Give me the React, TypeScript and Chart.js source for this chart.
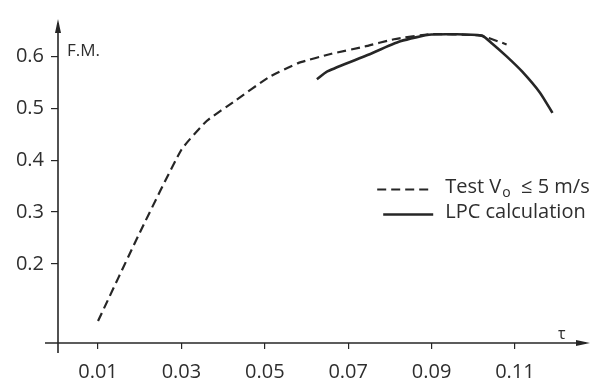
import { useEffect, useRef } from "react";
import { Chart, registerables } from "chart.js";

Chart.register(...registerables);

// ---- data ----
const testTau = [0.01, 0.02, 0.03, 0.036, 0.043, 0.051, 0.058, 0.066, 0.074, 0.081, 0.09, 0.1, 0.102, 0.108];
const testFM = [0.09, 0.26, 0.42, 0.475, 0.515, 0.56, 0.587, 0.605, 0.619, 0.633, 0.643, 0.641, 0.64, 0.623];

const lpcTau = [0.0625, 0.065, 0.0745, 0.0825, 0.09, 0.102, 0.1045, 0.108, 0.1117, 0.116, 0.119];
const lpcFM = [0.556, 0.571, 0.602, 0.629, 0.642, 0.64, 0.625, 0.6, 0.571, 0.53, 0.491];

const xTicks = [0.01, 0.03, 0.05, 0.07, 0.09, 0.11];
const yTicks = [0.2, 0.3, 0.4, 0.5, 0.6];

const legendMain = ["Test V", "LPC calculation"];
const legendSub = ["o", ""];
const legendTail = ["  \u2264 5 m/s", ""];

const yTitle = "F.M.";
const xTitle = "\u03c4";

const INK = "#262626";
const TEXT = "#2e2e2e";
const FONT = "'Open Sans', 'DejaVu Sans', sans-serif";

const axesPlugin = {
  id: "axesArrows",
  afterDraw(chart: any) {
    const { ctx, chartArea } = chart;
    const { left, right, top, bottom } = chartArea;
    ctx.save();
    ctx.strokeStyle = INK;
    ctx.fillStyle = INK;
    ctx.lineWidth = 1.6;
    // x axis
    ctx.beginPath();
    ctx.moveTo(left - 13, bottom);
    ctx.lineTo(right - 4, bottom);
    ctx.stroke();
    ctx.beginPath();
    ctx.moveTo(right, bottom);
    ctx.lineTo(right - 14, bottom - 3);
    ctx.lineTo(right - 14, bottom + 3);
    ctx.closePath();
    ctx.fill();
    // y axis
    ctx.beginPath();
    ctx.moveTo(left, bottom + 10);
    ctx.lineTo(left, top + 4);
    ctx.stroke();
    ctx.beginPath();
    ctx.moveTo(left, top);
    ctx.lineTo(left - 3, top + 14);
    ctx.lineTo(left + 3, top + 14);
    ctx.closePath();
    ctx.fill();
    // titles
    ctx.fillStyle = TEXT;
    ctx.font = `17px ${FONT}`;
    ctx.textBaseline = "middle";
    ctx.textAlign = "left";
    ctx.fillText(yTitle, left + 9, top + 32);
    ctx.font = `16px ${FONT}`;
    ctx.fillText(xTitle, right - 32, bottom - 9);
    ctx.restore();
  },
};

const legendPlugin = {
  id: "customLegend",
  afterDraw(chart: any) {
    const { ctx, chartArea } = chart;
    const w = chartArea.right - chartArea.left;
    const h = chartArea.bottom - chartArea.top;
    const x0 = chartArea.left + w * 0.6;
    const x1 = x0 + 56;
    const tx = x1 + 12;
    const y0 = chartArea.top + h * 0.52;
    const rowH = 25;
    ctx.save();
    chart.data.datasets.forEach((ds: any, i: number) => {
      const y = y0 + i * rowH;
      ctx.strokeStyle = ds.borderColor;
      ctx.lineWidth = ds.borderWidth;
      ctx.setLineDash(ds.borderDash || []);
      ctx.beginPath();
      ctx.moveTo(x0 + (i === 1 ? 6 : 0), y + 2);
      ctx.lineTo(x1, y + 2);
      ctx.stroke();
      ctx.setLineDash([]);
      ctx.fillStyle = TEXT;
      ctx.textBaseline = "middle";
      ctx.textAlign = "left";
      ctx.font = `20px ${FONT}`;
      let x = tx;
      ctx.fillText(legendMain[i], x, y);
      x += ctx.measureText(legendMain[i]).width;
      if (legendSub[i]) {
        ctx.font = `14px ${FONT}`;
        ctx.fillText(legendSub[i], x + 1, y + 6);
        x += ctx.measureText(legendSub[i]).width + 1;
        ctx.font = `20px ${FONT}`;
      }
      if (legendTail[i]) ctx.fillText(legendTail[i], x, y);
    });
    ctx.restore();
  },
};

export default function App() {
  const ref = useRef<HTMLCanvasElement>(null);
  useEffect(() => {
    document.body.style.margin = "0";
    const chart = new Chart(ref.current as HTMLCanvasElement, {
      type: "line",
      data: {
        datasets: [
          {
            label: legendMain[0] + legendSub[0] + legendTail[0],
            data: testTau.map((t, i) => ({ x: t, y: testFM[i] })),
            borderColor: INK,
            borderWidth: 2.2,
            borderDash: [9, 5],
            pointRadius: 0,
            tension: 0.15,
            fill: false,
          },
          {
            label: legendMain[1],
            data: lpcTau.map((t, i) => ({ x: t, y: lpcFM[i] })),
            borderColor: INK,
            borderWidth: 2.6,
            borderDash: [],
            pointRadius: 0,
            tension: 0.2,
            fill: false,
          },
        ],
      },
      options: {
        responsive: false,
        animation: false,
        layout: { padding: { top: 15, right: 7, left: 0, bottom: 0 } },
        plugins: { legend: { display: false }, tooltip: { enabled: false } },
        scales: {
          x: {
            type: "linear",
            min: 0.0004,
            max: 0.128,
            afterBuildTicks: (s: any) => {
              s.ticks = xTicks.map((v) => ({ value: v }));
            },
            afterFit: (s: any) => {
              s.height = 41;
            },
            border: { display: false },
            grid: { drawOnChartArea: false, drawTicks: true, tickLength: 6, color: INK, lineWidth: 1.2 },
            ticks: {
              autoSkip: false,
              maxRotation: 0,
              padding: 11,
              color: TEXT,
              font: { family: FONT, size: 20 },
              callback: (v: any) => Number(v).toFixed(2),
            },
          },
          y: {
            type: "linear",
            min: 0.0476,
            max: 0.672,
            afterBuildTicks: (s: any) => {
              s.ticks = yTicks.map((v) => ({ value: v }));
            },
            afterFit: (s: any) => {
              s.width = 58;
            },
            border: { display: false },
            grid: { drawOnChartArea: false, drawTicks: true, tickLength: 7, color: INK, lineWidth: 1.2 },
            ticks: {
              autoSkip: false,
              padding: 7,
              color: TEXT,
              font: { family: FONT, size: 20 },
              callback: (v: any) => Number(v).toFixed(1),
            },
          },
        },
      },
      plugins: [axesPlugin, legendPlugin],
    });
    return () => chart.destroy();
  }, []);
  return <canvas ref={ref} width={597} height={384} style={{ display: "block" }} />;
}
